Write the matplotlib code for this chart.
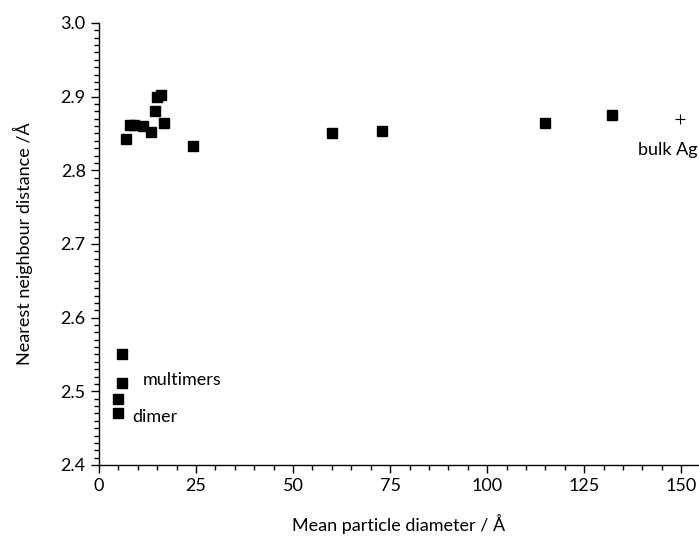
import matplotlib
matplotlib.use("Agg")
import matplotlib.pyplot as plt
from matplotlib.ticker import MultipleLocator

plt.rcParams['font.family'] = ['Lato', 'DejaVu Sans']

# Mean particle diameter (Å) and nearest neighbour distance (Å)
diameter = [4.97, 4.97, 5.85, 5.85, 6.9, 8.0, 9.1, 11.4, 13.3, 14.4, 14.9, 16.0,
            16.8, 24.3, 60.1, 72.9, 114.9, 132.1]
distance = [2.470, 2.490, 2.511, 2.551, 2.842, 2.862, 2.861, 2.860, 2.852, 2.881,
            2.900, 2.902, 2.864, 2.833, 2.850, 2.853, 2.864, 2.875]

bulk_diameter = [149.7]
bulk_distance = [2.869]

x_ticks = [0, 25, 50, 75, 100, 125, 150]
y_ticks = [2.4, 2.5, 2.6, 2.7, 2.8, 2.9, 3.0]

fig = plt.figure(figsize=(6.99, 5.41), dpi=100)
ax = fig.add_axes([0.1416, 0.1405, 0.858, 0.817])

ax.plot(diameter, distance, linestyle='none', marker='s', markersize=6.5,
        color='black')
ax.plot(bulk_diameter, bulk_distance, linestyle='none', marker='+',
        markersize=7, markeredgewidth=0.8, color='black')

ax.text(11.3, 2.516, 'multimers', fontsize=13, ha='left', va='center')
ax.text(8.6, 2.465, 'dimer', fontsize=13, ha='left', va='center')
ax.text(154.2, 2.828, 'bulk Ag', fontsize=13, ha='right', va='center')

ax.set_xlim(0, 154.5)
ax.set_ylim(2.4, 3.0)
ax.set_xticks(x_ticks)
ax.set_yticks(y_ticks)
ax.set_yticklabels([f'{v:.1f}' for v in y_ticks])
ax.xaxis.set_minor_locator(MultipleLocator(5))
ax.yaxis.set_minor_locator(MultipleLocator(0.01))

ax.spines['top'].set_visible(False)
ax.spines['right'].set_visible(False)
for s in ('left', 'bottom'):
    ax.spines[s].set_linewidth(1.0)

ax.tick_params(which='major', direction='out', length=6, width=1.0,
               labelsize=13)
ax.tick_params(which='minor', direction='out', length=3.5, width=1.0)

ax.set_xlabel('Mean particle diameter / Å', fontsize=13, labelpad=14)
ax.set_ylabel('Nearest neighbour distance /Å', fontsize=13, labelpad=20)

fig.savefig('out.png', dpi=100)
